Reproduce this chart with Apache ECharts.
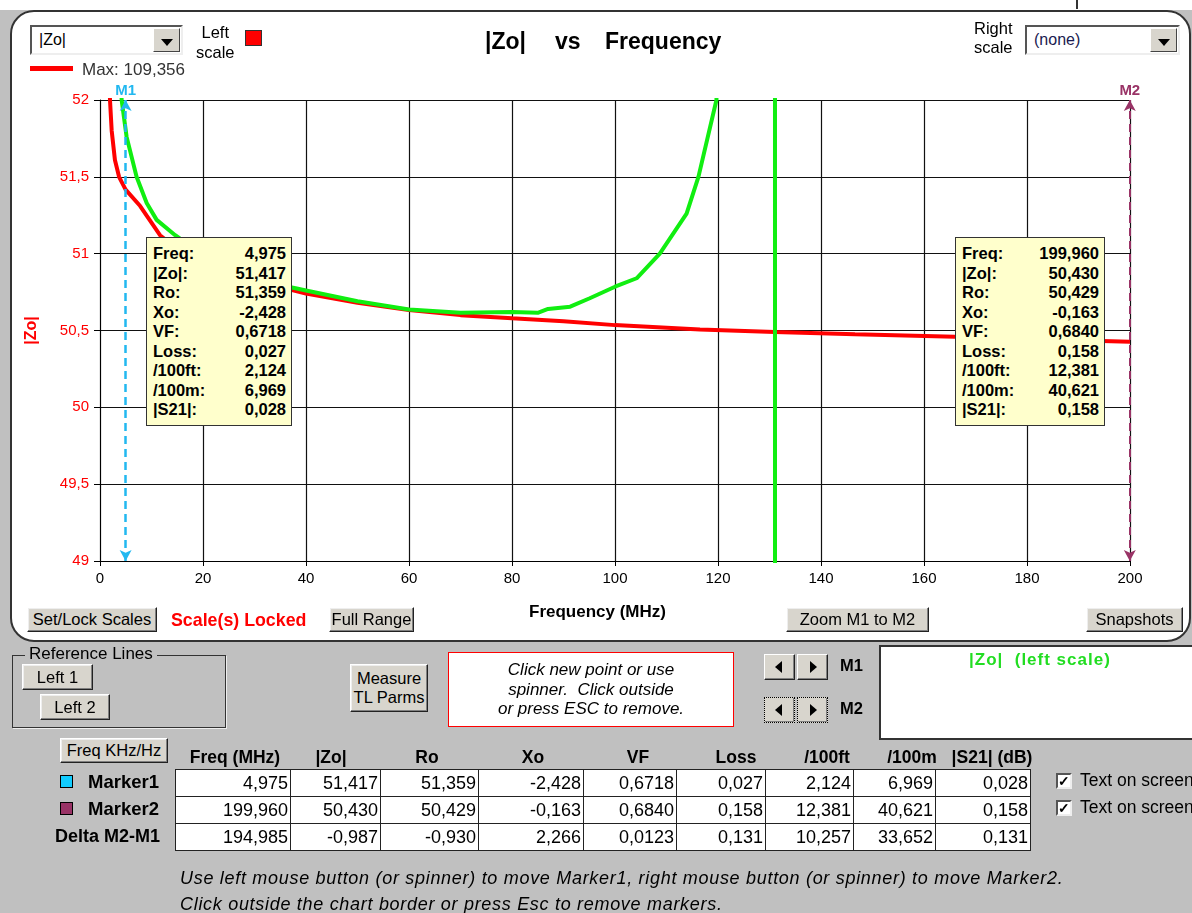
<!DOCTYPE html>
<html><head><meta charset="utf-8">
<script src="https://cdn.jsdelivr.net/npm/echarts@6/dist/echarts.min.js"></script>
<style>
body{margin:0;width:1192px;height:913px;background:#c0c0c0;font-family:"Liberation Sans",Arial,sans-serif;position:relative;overflow:hidden;color:#000}
.a{position:absolute;white-space:pre}
.panel{position:absolute;left:10px;top:10px;width:1177px;height:628px;border:2px solid #333;border-radius:24px;background:#fff;z-index:0}
#chart{position:absolute;left:0;top:0;width:1192px;height:913px;z-index:1}
.ov{z-index:3}
.btn{position:absolute;z-index:3;background:#d8d5cd;border:1px solid;border-color:#fff #222 #222 #fff;box-shadow:inset -1px -1px #808080, inset 1px 1px #eee;font-size:16.5px;display:flex;align-items:center;justify-content:center;text-align:center;box-sizing:border-box;line-height:1.15;white-space:nowrap}
.dd{position:absolute;z-index:3;background:#fff;border:2px solid;border-color:#555 #eee #eee #555;box-sizing:border-box;font-size:16px}
.ddb{position:absolute;right:1px;top:1px;bottom:1px;width:27px;background:#d8d5cd;border:1px solid;border-color:#fff #444 #444 #fff;box-sizing:border-box}
.ddb:after{content:"";position:absolute;left:7px;top:10px;border-left:6px solid transparent;border-right:6px solid transparent;border-top:7px solid #000}
.box{position:absolute;z-index:3;background:#ffffcc;border:1.5px solid #333;box-sizing:border-box;padding:6px 5px 0 6px;font-weight:bold;font-size:16.5px}
.box div{display:flex;justify-content:space-between;line-height:19.5px;height:19.5px}
table{position:absolute;z-index:3;border-collapse:collapse;left:175px;top:769px}
td{border:1.5px solid #222;background:#fff;height:27px;padding:0 2px 0 0;text-align:right;font-size:18px;box-sizing:border-box}
.hd{position:absolute;z-index:3;font-weight:bold;font-size:17.5px;top:747px;transform:translateX(-50%);white-space:pre}
.cb{position:absolute;z-index:3;width:16px;height:16px;background:#fff;border:2px solid;border-color:#555 #eee #eee #555;box-sizing:border-box;font-size:14px;line-height:12px;font-weight:bold;text-align:center}
.sp{position:absolute;z-index:3;width:31px;height:26px;background:#d8d5cd;border:1px solid;border-color:#fff #222 #222 #fff;box-shadow:inset -1px -1px #808080;box-sizing:border-box}
.tl:after,.tr:after{content:"";position:absolute;top:6px;border-top:6px solid transparent;border-bottom:6px solid transparent}
.tl:after{left:10px;border-right:7px solid #000}
.tr:after{left:12px;border-left:7px solid #000}
.it{font-style:italic;font-size:18px;letter-spacing:0.7px}
</style></head><body>
<div class="a" style="left:0;top:0;width:1192px;height:10px;background:#fff"></div>
<div class="a" style="left:1076px;top:0;width:2px;height:9px;background:#333"></div>
<div class="panel"></div>
<div id="chart"></div>

<div class="dd" style="left:30px;top:25px;width:153px;height:30px"><span class="a" style="left:7px;top:4px">|Zo|</span><div class="ddb"></div></div>
<div class="a ov" style="left:196px;top:22px;font-size:16.5px;text-align:center;line-height:20px">Left
scale</div>
<div class="a ov" style="left:245px;top:30px;width:15px;height:14px;background:#ff0000;border:1px solid #333"></div>
<div class="a ov" style="left:30px;top:66px;width:43px;height:5px;background:#ff0000"></div>
<div class="a ov" style="left:82px;top:60px;font-size:17px;color:#333">Max: 109,356</div>
<div class="a ov" style="left:485px;top:28px;font-size:23px;font-weight:bold">|Zo|</div>
<div class="a ov" style="left:555px;top:28px;font-size:23px;font-weight:bold">vs</div>
<div class="a ov" style="left:605px;top:28px;font-size:23px;font-weight:bold">Frequency</div>
<div class="a ov" style="left:974px;top:19px;font-size:16.5px;text-align:center;line-height:19px">Right
scale</div>
<div class="dd" style="left:1025px;top:25px;width:155px;height:30px"><span class="a" style="left:7px;top:4px;color:#1a1a50">(none)</span><div class="ddb"></div></div>
<div class="a ov" style="left:529px;top:602px;font-size:17px;font-weight:bold">Frequency (MHz)</div>

<div class="box" id="box1" style="left:146px;top:237px;width:146px;height:189px"></div>
<div class="box" id="box2" style="left:955px;top:237px;width:150px;height:189px"></div>

<div class="btn" style="left:27px;top:607px;width:130px;height:25px">Set/Lock Scales</div>
<div class="a ov" style="left:171px;top:610px;font-size:17.8px;font-weight:bold;color:#ff0000">Scale(s) Locked</div>
<div class="btn" style="left:329px;top:607px;width:85px;height:25px">Full Range</div>
<div class="btn" style="left:786px;top:607px;width:143px;height:25px">Zoom M1 to M2</div>
<div class="btn" style="left:1086px;top:607px;width:97px;height:25px">Snapshots</div>

<div class="a ov" style="left:12px;top:655px;width:212px;height:71px;border:1px solid #333;box-shadow:1px 1px #eee"></div>
<div class="a ov" style="left:25px;top:644px;padding:0 4px;background:#c0c0c0;font-size:17px">Reference Lines</div>
<div class="btn" style="left:22px;top:664px;width:71px;height:26px">Left 1</div>
<div class="btn" style="left:40px;top:694px;width:70px;height:26px">Left 2</div>
<div class="btn" style="left:350px;top:664px;width:78px;height:48px">Measure<br>TL Parms</div>
<div class="a ov" style="left:448px;top:652px;width:286px;height:75px;background:#fff;border:1.5px solid #ff0000;box-sizing:border-box;font-style:italic;font-size:17px;text-align:center;line-height:19.5px;padding-top:7px">Click new point or use
spinner.  Click outside
or press ESC to remove.</div>
<div class="sp tl" style="left:764px;top:654px"></div><div class="sp tr" style="left:797px;top:654px"></div>
<div class="a ov" style="left:840px;top:656px;font-size:16.5px;font-weight:bold">M1</div>
<div class="sp tl" style="left:764px;top:697px;border:1px dotted #000"></div><div class="sp tr" style="left:797px;top:697px;border:1px dotted #000"></div>
<div class="a ov" style="left:840px;top:699px;font-size:16.5px;font-weight:bold">M2</div>
<div class="a ov" style="left:879px;top:645px;width:320px;height:95px;background:#fff;border:2px solid #333;box-sizing:border-box"></div>
<div class="a ov" style="left:969px;top:650px;font-size:17px;letter-spacing:1px;font-weight:bold;color:#22dd22">|Zo|  (left scale)</div>

<div class="btn" style="left:60px;top:738px;width:108px;height:25px">Freq KHz/Hz</div>
<div id="heads"></div>
<div class="a ov" style="left:60px;top:775px;width:11px;height:11px;background:#11ccff;border:1px solid #000"></div>
<div class="a ov" style="left:60px;top:802px;width:11px;height:11px;background:#993366;border:1px solid #000"></div>
<div class="a ov" style="left:88px;top:771px;font-size:18.5px;font-weight:bold">Marker1</div>
<div class="a ov" style="left:88px;top:798px;font-size:18.5px;font-weight:bold">Marker2</div>
<div class="a ov" style="left:55px;top:826px;font-size:18px;font-weight:bold">Delta M2-M1</div>
<table id="tbl"></table>
<div class="cb" style="left:1056px;top:773px">✓</div>
<div class="cb" style="left:1056px;top:800px">✓</div>
<div class="a ov" style="left:1080px;top:770px;font-size:17.5px">Text on screen</div>
<div class="a ov" style="left:1080px;top:797px;font-size:17.5px">Text on screen</div>
<div class="a ov it" style="left:180px;top:868px">Use left mouse button (or spinner) to move Marker1, right mouse button (or spinner) to move Marker2.</div>
<div class="a ov it" style="left:180px;top:894px">Click outside the chart border or press Esc to remove markers.</div>

<script>
// ---- data ----
const redFreq = [1.5, 1.94, 2.27, 2.9, 3.7, 4.975, 7.8, 11.65, 15, 20, 25, 30, 37.3, 40, 50, 60, 70, 80, 90, 100, 116.5, 131, 146.6, 166, 180, 200];
const redZo   = [53.0, 52.0, 51.8, 51.61, 51.5, 51.417, 51.31, 51.12, 51.03, 50.95, 50.88, 50.82, 50.763, 50.74, 50.68, 50.633, 50.60, 50.579, 50.56, 50.535, 50.507, 50.49, 50.475, 50.46, 50.445, 50.427];
const greenFreq = [3.5, 4.2, 5.17, 7.1, 9.06, 11.0, 14.6, 20, 25, 30, 37.3, 40, 50, 60, 70, 80, 85, 87, 91.3, 95.1, 100, 104.2, 108.7, 113.9, 116.2, 119.7, 125, 131.0, 131.1];
const greenZo   = [53.0, 52.0, 51.76, 51.5, 51.33, 51.22, 51.12, 50.99, 50.91, 50.85, 50.78, 50.76, 50.69, 50.637, 50.615, 50.62, 50.615, 50.64, 50.655, 50.71, 50.785, 50.84, 51.0, 51.26, 51.5, 52.0, 65, 109.356, 20];
const xTicks = [0, 20, 40, 60, 80, 100, 120, 140, 160, 180, 200];
const yTicks = [49, 49.5, 50, 50.5, 51, 51.5, 52];
const m1Freq = 4.975, m2Freq = 199.96;
const boxLabels = ["Freq:", "|Zo|:", "Ro:", "Xo:", "VF:", "Loss:", "/100ft:", "/100m:", "|S21|:"];
const m1Values = ["4,975", "51,417", "51,359", "-2,428", "0,6718", "0,027", "2,124", "6,969", "0,028"];
const m2Values = ["199,960", "50,430", "50,429", "-0,163", "0,6840", "0,158", "12,381", "40,621", "0,158"];
const deltaValues = ["194,985", "-0,987", "-0,930", "2,266", "0,0123", "0,131", "10,257", "33,652", "0,131"];
const tableHeaders = ["Freq (MHz)", "|Zo|", "Ro", "Xo", "VF", "Loss", "/100ft", "/100m", "|S21| (dB)"];

// ---- info boxes & table ----
function fillBox(id, vals){
  document.getElementById(id).innerHTML = boxLabels.map((l,i)=>`<div><span>${l}</span><span>${vals[i]}</span></div>`).join('');
}
fillBox('box1', m1Values); fillBox('box2', m2Values);
const colEdges = [175, 290, 380, 478, 583, 676, 765, 853, 935, 1030];
const headCenters = [235, 331, 427, 533, 638, 736, 827, 912, 992];
const tbl = document.getElementById('tbl');
[m1Values, m2Values, deltaValues].forEach(r=>{
  const tr = document.createElement('tr');
  r.forEach((v,i)=>{ const td=document.createElement('td'); td.style.width=(colEdges[i+1]-colEdges[i])+'px'; td.textContent=v; tr.appendChild(td); });
  tbl.appendChild(tr);
});
const heads = document.getElementById('heads');
tableHeaders.forEach((h,i)=>{
  const d=document.createElement('div'); d.className='hd';
  d.style.left=headCenters[i]+'px'; d.textContent=h; heads.appendChild(d);
});

// ---- chart ----
const chart = echarts.init(document.getElementById('chart'), null, {renderer:'canvas'});
const comma = v => String(v).replace('.', ',');
chart.setOption({
  animation:false,
  backgroundColor:'transparent',
  grid:{left:100, top:100, width:1030, height:461},
  xAxis:{type:'value', min:xTicks[0], max:xTicks[xTicks.length-1], interval:20,
    axisLine:{lineStyle:{color:'#000', width:1}},
    axisTick:{show:true, length:5, lineStyle:{color:'#000'}},
    axisLabel:{color:'#000', fontSize:15, margin:10, fontFamily:'Liberation Sans'},
    splitLine:{show:true, lineStyle:{color:'#111', width:1.2}}},
  yAxis:{type:'value', min:yTicks[0], max:yTicks[yTicks.length-1], interval:0.5,
    name:'|Zo|', nameLocation:'middle', nameGap:60,
    nameTextStyle:{color:'#ff0000', fontWeight:'bold', fontSize:16, fontFamily:'Liberation Sans'},
    axisLine:{show:true, lineStyle:{color:'#000', width:1}},
    axisTick:{show:true, length:6, lineStyle:{color:'#000'}},
    axisLabel:{color:'#ff0000', fontSize:15, margin:11, formatter:comma, fontFamily:'Liberation Sans'},
    splitLine:{show:true, lineStyle:{color:'#111', width:1.2}}},
  series:[
    {type:'line', name:'red', data:redFreq.map((f,i)=>[f, redZo[i]]), symbol:'none', clip:true, z:3,
     lineStyle:{color:'#ff0000', width:4}, itemStyle:{color:'#ff0000'},
     markLine:{silent:true, symbol:['arrow','arrow'], symbolSize:[9,11], precision:3,
       data:[
         {xAxis:m1Freq, lineStyle:{color:'#22b8f0', type:[8,5], width:2.5}, itemStyle:{color:'#22b8f0'},
          label:{formatter:'M1', color:'#22b8f0', position:'end', fontWeight:'bold', fontSize:15, distance:2}},
         {xAxis:m2Freq, lineStyle:{color:'#993366', type:[8,5], width:2}, itemStyle:{color:'#993366'},
          label:{formatter:'M2', color:'#993366', position:'end', fontWeight:'bold', fontSize:15, distance:2}}
       ]}},
    {type:'line', name:'green', data:greenFreq.map((f,i)=>[f, greenZo[i]]), symbol:'none', clip:true, z:4,
     lineStyle:{color:'#11ee11', width:4}, itemStyle:{color:'#11ee11'}}
  ]
});
</script>
</body></html>
